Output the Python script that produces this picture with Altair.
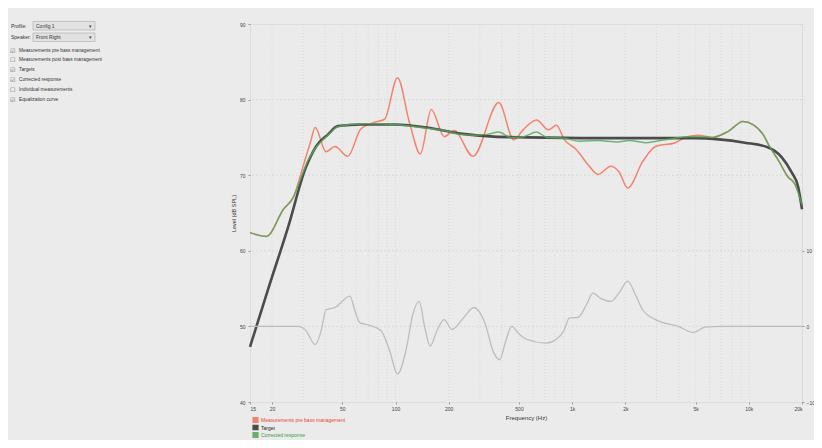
import altair as alt
import pandas as pd

FONT = "Liberation Sans"

# ---- data ----
SER_MEAS = "Measurements pre bass management"
SER_TGT = "Target"
SER_CORR = "Corrected response"

meas_freq = [15, 18.6, 23.2, 26.4, 30.0, 32.9, 35.1, 40.4, 45.4, 53.7, 63.6, 76.2, 86.7, 102.6, 119.8,
             138.2, 159.4, 188.6, 214.7, 274.3, 384.3, 466.8, 532, 628.8, 734.7, 814.6, 902.8, 1054,
             1248, 1401, 1656, 1836, 2064, 2506, 2965, 3833, 4479, 5166, 6202, 7647, 9262, 10560,
             12030, 13170, 14590, 16640, 18240, 20000]
meas_db = [62.4, 61.9, 65.5, 67.1, 71.2, 74.3, 76.3, 73.1, 73.8, 72.5, 76.1, 77.0, 77.4, 82.9, 77.0,
           72.8, 78.7, 75.1, 75.9, 72.5, 79.6, 74.7, 76.1, 77.3, 76.0, 76.6, 74.7, 73.4,
           71.2, 70.1, 71.2, 70.5, 68.3, 71.8, 73.8, 74.3, 75.1, 75.3, 75.0, 75.8, 77.1, 76.7,
           75.4, 73.7, 72.1, 69.8, 68.8, 66.1]

target_freq = [15, 19.1, 24.7, 30.8, 35.5, 41.5, 47.2, 63.6, 98.7, 151, 232, 360, 552, 1364, 4975,
               9505, 12790, 15330, 17450, 19000, 20000]
target_db = [47.3, 55.1, 63.2, 70.8, 73.8, 75.4, 76.5, 76.7, 76.7, 76.3, 75.5, 75.1, 75.0, 74.9, 74.9,
             74.3, 73.7, 72.4, 70.4, 68.5, 65.5]

corr_freq = [15, 18.6, 23.2, 26.4, 29, 32, 35.5, 41.5, 47.2, 63.6, 80, 98.7, 120, 151, 190, 232, 280,
             330, 384, 450, 530, 629, 720, 900, 1100, 1400, 1800, 2100, 2600, 3000, 3800, 4500, 5200,
             6202, 7647, 9262, 10560, 12030, 13170, 14590, 16640, 18240, 20000]
corr_db = [62.4, 61.9, 65.5, 67.1, 69.5, 72.0, 73.7, 75.3, 76.4, 76.8, 76.8, 76.7, 76.5, 76.2, 75.9,
           75.4, 75.3, 75.4, 75.7, 75.0, 75.1, 75.7, 75.0, 74.9, 74.5, 74.6, 74.4, 74.6, 74.3, 74.5,
           74.9, 75.1, 75.1, 75.0, 75.8, 77.1, 76.7, 75.4, 73.7, 72.1, 69.8, 68.8, 66.1]

eq_freq = [15, 28.1, 31, 35.1, 38, 40.4, 45.4, 55.2, 59, 62.8, 70, 82.4, 92, 102.6, 115, 125, 136, 146,
           157, 172, 188, 209, 240, 278, 320, 360, 389, 420, 454, 500, 552, 714, 813, 900, 962, 1081,
           1200, 1312, 1450, 1656, 1850, 2064, 2300, 2506, 2965, 3991, 4844, 5659, 7000, 20000]
eq_db = [0, 0, -0.5, -2.4, -0.5, 2.2, 2.5, 4.0, 2.0, 0.5, 0.2, -0.5, -3, -6.3, -3, 1.5, 3.3, 0,
         -2.6, -0.5, 0.9, -0.4, 1.0, 2.5, 0.5, -3.5, -4.4, -2, 0, -1.0, -1.7, -2.2, -1.7, -0.5, 1.1, 1.2,
         2.8, 4.4, 3.7, 3.3, 4.5, 6.0, 4.0, 2.2, 0.9, 0, -0.8, -0.1, 0, 0]

x_tick_values = [15, 20, 50, 100, 200, 500, 1000, 2000, 5000, 10000, 20000]
grid_freq = [m * d for d in (10, 100, 1000, 10000) for m in range(1, 10) if 15 < m * d < 20000] + [20000]
grid_db = [50, 60, 70, 80]
left_ticks = [40, 50, 60, 70, 80, 90]
right_ticks = [-10, 0, 10]

panel_checks = [("☑", "Measurements pre bass management"),
                ("☐", "Measurements post bass management"),
                ("☑", "Targets"),
                ("☑", "Corrected response"),
                ("☐", "Individual measurements"),
                ("☑", "Equalization curve")]

# ---- chart ----
W, H = 552, 378
OX, OY = 250, 24  # page position of plot origin

xscale = alt.Scale(type="log", domain=[15, 20000], nice=False)
yscale = alt.Scale(domain=[40, 90], nice=False)
xaxis = alt.Axis(values=x_tick_values, grid=False, domain=False, tickSize=2, tickColor="#999",
                 labelFontSize=5, labelColor="#444", labelFont=FONT, labelPadding=2,
                 labelExpr="datum.value >= 1000 ? format(datum.value/1000, 'd') + 'k' : format(datum.value, 'd')",
                 title="Frequency (Hz)", titleFontSize=6, titleFont=FONT, titleFontWeight="normal",
                 titleColor="#333", titlePadding=3)
yaxis = alt.Axis(values=left_ticks, grid=False, domain=False, tickSize=2, tickColor="#999",
                 labelFontSize=5, labelColor="#444", labelFont=FONT, labelPadding=3,
                 title="Level (dB SPL)", titleFontSize=5.5, titleFont=FONT, titleFontWeight="normal",
                 titleColor="#333", titlePadding=3)

X = alt.X("f:Q", scale=xscale, axis=xaxis)
Y = alt.Y("db:Q", scale=yscale, axis=yaxis)

color_scale = alt.Scale(domain=[SER_MEAS, SER_TGT, SER_CORR], range=["#f3785f", "#3a3a3a", "#5aa85a"])
legend = alt.Legend(orient="none", legendX=2, legendY=393, title=None, symbolType="square",
                    symbolSize=10, symbolStrokeWidth=3, labelFontSize=5, labelFont=FONT,
                    rowPadding=1.5, labelOffset=2, labelLimit=200, clipHeight=6,
                    labelColor={"expr": "datum.value === 'Target' ? '#222' : (datum.value === 'Corrected response' ? '#3a9a3a' : '#e8442e')"})

def series_df(fr, db, name):
    return pd.DataFrame({"f": fr, "db": db, "s": name})

C = alt.Color("s:N", scale=color_scale, legend=legend)

vgrid = alt.Chart(pd.DataFrame({"f": grid_freq})).mark_rule(
    color="#d2d2d2", strokeWidth=0.7, strokeDash=[1, 2]).encode(x=X)
hgrid = alt.Chart(pd.DataFrame({"db": grid_db})).mark_rule(
    color="#d2d2d2", strokeWidth=0.7, strokeDash=[2, 2]).encode(y=Y)

red = alt.Chart(series_df(meas_freq, meas_db, SER_MEAS)).mark_line(
    strokeWidth=1.5, interpolate="monotone", opacity=0.9).encode(x=X, y=Y, color=C)
black = alt.Chart(series_df(target_freq, target_db, SER_TGT)).mark_line(
    strokeWidth=2.6, interpolate="monotone", opacity=0.9).encode(x=X, y=Y, color=C)
green = alt.Chart(series_df(corr_freq, corr_db, SER_CORR)).mark_line(
    strokeWidth=1.5, interpolate="monotone", opacity=0.85).encode(x=X, y=Y, color=C)

main = alt.layer(hgrid, red, black, green)

eq = alt.Chart(pd.DataFrame({"f": eq_freq, "eqdb": eq_db})).mark_line(
    color="#bdbdbd", strokeWidth=1.3, interpolate="monotone").encode(
    x=X,
    y=alt.Y("eqdb:Q", scale=alt.Scale(domain=[-10, 40], nice=False),
            axis=alt.Axis(orient="right", values=right_ticks, grid=False, domain=False, tickSize=2,
                          tickColor="#999", labelFontSize=5, labelColor="#444", labelFont=FONT,
                          labelPadding=2, title=None)))

one = pd.DataFrame({"a": [0]})

def ui_text(txt, px, py, size=5.0, color="#333", font=FONT):
    return alt.Chart(pd.DataFrame({"t": [txt]})).mark_text(
        align="left", baseline="middle", fontSize=size, color=color, font=font).encode(
        x=alt.value(px - OX), y=alt.value(py - OY), text="t:N")

def ui_box(x1, y1, x2, y2):
    return alt.Chart(one).mark_rect(fill="#e2e2e2", stroke="#a8a8a8", strokeWidth=0.6).encode(
        x=alt.value(x1 - OX), x2=alt.value(x2 - OX), y=alt.value(y1 - OY), y2=alt.value(y2 - OY))

ui = [ui_text("Profile:", 11, 25.5), ui_box(33, 21.5, 95, 30), ui_text("Config 1", 36, 25.8),
      ui_text("▾", 89, 25.5, 5, "#444", "DejaVu Sans"),
      ui_text("Speaker:", 11, 37), ui_box(33, 33, 95, 41.5), ui_text("Front Right", 36, 37.3),
      ui_text("▾", 89, 37, 5, "#444", "DejaVu Sans")]
for i, (mark, label) in enumerate(panel_checks):
    yy = 50.5 + i * 9.9
    ui.append(ui_text(mark, 10, yy, 6, "#666", "DejaVu Sans"))
    ui.append(ui_text(label, 19, yy, 4.8))

chart = alt.layer(vgrid, main, eq, *ui).resolve_scale(y="independent").properties(
    width=W, height=H,
    autosize=alt.AutoSizeParams(type="none"),
    padding={"left": OX - 8, "top": OY - 8, "right": 12, "bottom": 38},
    background="#ebebeb",
).configure_view(stroke=None, fill="#eeeeee").configure(font=FONT)

chart.save("out.html", embed_options={"renderer": "svg", "actions": False})
